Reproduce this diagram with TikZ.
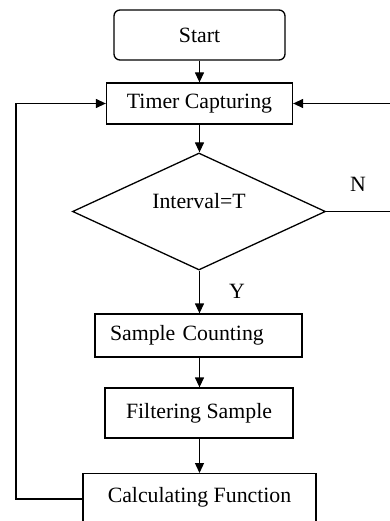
\documentclass[tikz,border=0pt]{standalone}
\usepackage{fontspec}
\setmainfont{Liberation Serif}
\usetikzlibrary{shapes.geometric,arrows.meta}
\begin{document}
\begin{tikzpicture}[x=1pt,y=-1pt,
  line width=1.3pt,
  font=\fontsize{21.8}{24}\selectfont,
  box/.style={draw, rectangle, inner sep=0pt},
  startbox/.style={draw, rectangle, rounded corners=6pt, inner sep=0pt},
  decision/.style={draw, diamond, inner sep=0pt},
  flow/.style={-{Triangle[length=10pt,width=9pt]}},
  link/.style={line join=miter}
]
\useasboundingbox (0,0) rectangle (390,521);

% process boxes
\node[startbox, minimum width=171pt, minimum height=50pt] (start) at (199.5,35) {Start};
\node[box, minimum width=186pt, minimum height=41pt] (timer) at (199.5,103.5) {Timer Capturing};
\node[decision, minimum width=253pt, minimum height=117pt] (cond) at (199,211.5) {};
\node (condtext) at (199,201) {Interval=T};
\node[box, text width=177pt, inner xsep=15pt, minimum height=43pt, align=left] (count) at (198.5,335.5) {Sample Counting};
\node[box, minimum width=188pt, minimum height=50pt] (filter) at (199,413) {Filtering Sample};
\node[box, minimum width=233pt, text height=29pt, text depth=31pt, anchor=north] (calc) at (199.5,473) {Calculating Function};

% branch labels
\node (nlab) at (358,184) {N};
\node (ylab) at (237,291) {Y};

% loop corners
\coordinate (lcorner) at (16,499);
\coordinate (rcorner) at (392,211.5);

% main flow, along the common axis of the start box
\draw[flow] (start.south) -- (start.south |- timer.north);
\draw[flow] (start.south |- timer.south) -- (start.south |- cond.north);
\draw[flow] (start.south |- cond.south) -- (start.south |- count.north);
\draw[flow] (start.south |- count.south) -- (start.south |- filter.north);
\draw[flow] (start.south |- filter.south) -- (start.south |- calc.north);

% feedback loops
\draw[flow, link] ([yshift=-26pt]calc.north west) -- (lcorner) |- (timer.west);
\draw[flow, link] (cond.east) -- (rcorner) |- (timer.east);
\end{tikzpicture}
\end{document}
